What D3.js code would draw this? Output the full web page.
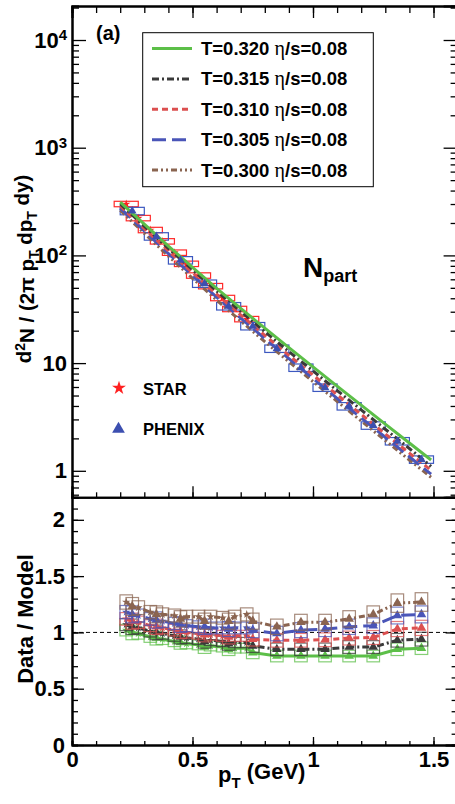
<!DOCTYPE html>
<html>
<head>
<meta charset="utf-8">
<script src="https://cdn.jsdelivr.net/npm/d3@7"></script>
<style>
body { margin: 0; background: #fff; }
text { font-family: "Liberation Sans", Arial, sans-serif; font-weight: bold; }
</style>
</head>
<body>
<script>
// STAR spectrum (upper panel)
var starPt  = [0.225, 0.275, 0.325, 0.375, 0.425, 0.475, 0.525, 0.575, 0.625, 0.675, 0.725];
var starVal = [300, 222, 172, 135, 106, 83.5, 65, 51.8, 40.2, 31.8, 25.6];

// PHENIX spectrum (upper panel)
var phenixPt  = [0.25, 0.35, 0.45, 0.55, 0.65, 0.75, 0.85, 0.95, 1.05, 1.15, 1.25, 1.35, 1.45];
var phenixVal = [258, 150, 90, 54.6, 33.7, 22.0, 13.6, 9.06, 5.91, 3.97, 2.63, 1.88, 1.27];

// model curves
var modelPt   = [0.2, 0.3, 0.4, 0.5, 0.6, 0.7, 0.8, 0.9, 1.0, 1.1, 1.2, 1.3, 1.4, 1.49];
var modelT320 = [313, 195, 122, 77.6, 49.5, 32.2, 21.1, 13.9, 9.23, 6.12, 4.07, 2.71, 1.81, 1.26];
var modelT315 = [300, 187, 116, 73.7, 46.7, 30.2, 19.6, 12.8, 8.46, 5.57, 3.68, 2.43, 1.61, 1.10];
var modelT310 = [288, 177, 110, 69.1, 43.6, 28.0, 18.1, 11.8, 7.75, 5.08, 3.34, 2.20, 1.46, 1.01];
var modelT305 = [275, 169, 104, 65.2, 40.9, 26.2, 16.9, 11.0, 7.20, 4.71, 3.10, 2.05, 1.35, 0.93];
var modelT300 = [263, 160, 98.5, 61.3, 38.5, 24.6, 15.8, 10.3, 6.74, 4.41, 2.90, 1.91, 1.26, 0.87];

// data / model, PHENIX points
var ratioPhxT320 = [1.00, 0.95, 0.91, 0.87, 0.85, 0.82, 0.79, 0.79, 0.79, 0.79, 0.79, 0.85, 0.86];
var ratioPhxT315 = [1.05, 1.00, 0.96, 0.92, 0.90, 0.88, 0.85, 0.85, 0.85, 0.87, 0.87, 0.93, 0.94];
var ratioPhxT310 = [1.10, 1.05, 1.01, 0.98, 0.96, 0.94, 0.93, 0.93, 0.935, 0.95, 0.955, 1.03, 1.04];
var ratioPhxT305 = [1.16, 1.11, 1.07, 1.05, 1.03, 1.02, 0.99, 1.02, 1.03, 1.05, 1.06, 1.15, 1.16];
var ratioPhxT300 = [1.23, 1.16, 1.12, 1.10, 1.10, 1.10, 1.05, 1.09, 1.09, 1.12, 1.16, 1.26, 1.27];

// data / model, STAR points
var ratioStarT320 = [1.02, 0.99, 0.96, 0.94, 0.92, 0.90, 0.89, 0.88, 0.87, 0.86, 0.86];
var ratioStarT315 = [1.07, 1.04, 1.01, 0.99, 0.97, 0.95, 0.94, 0.93, 0.92, 0.91, 0.91];
var ratioStarT310 = [1.12, 1.09, 1.06, 1.04, 1.02, 1.00, 0.99, 0.98, 0.97, 0.97, 0.97];
var ratioStarT305 = [1.18, 1.15, 1.12, 1.10, 1.08, 1.06, 1.05, 1.04, 1.04, 1.04, 1.04];
var ratioStarT300 = [1.27, 1.22, 1.18, 1.16, 1.15, 1.14, 1.14, 1.14, 1.13, 1.14, 1.16];

var legendLabels = ["T=0.320", "T=0.315", "T=0.310", "T=0.305", "T=0.300"];

var models = [
  {label: legendLabels[0], color: "#5cbf48", dash: null,            curve: modelT320, rp: ratioPhxT320, rs: ratioStarT320},
  {label: legendLabels[1], color: "#3a3a3a", dash: "7,3,2,3",       curve: modelT315, rp: ratioPhxT315, rs: ratioStarT315},
  {label: legendLabels[2], color: "#dc5050", dash: "6,4",           curve: modelT310, rp: ratioPhxT310, rs: ratioStarT310},
  {label: legendLabels[3], color: "#4a55b8", dash: "14,6",          curve: modelT305, rp: ratioPhxT305, rs: ratioStarT305},
  {label: legendLabels[4], color: "#8a6450", dash: "6,3,2,3,2,3",   curve: modelT300, rp: ratioPhxT300, rs: ratioStarT300}
];

var svg = d3.select("body").append("svg")
    .attr("width", 455)
    .attr("height", 804);

var x    = d3.scaleLinear().domain([0, 1.6]).range([72, 457.6]);
var yTop = d3.scaleLog().domain([0.5675, 20690]).range([497.3, 6]);
var yBot = d3.scaleLinear().domain([0, 2.2]).range([745, 497.3]);

var starSym = d3.symbol().type(d3.symbolStar).size(22);
var triSym  = d3.symbol().type(d3.symbolTriangle).size(32);

// ---------- upper panel ----------
var upper = svg.append("g");

// systematic boxes
upper.selectAll(".sbox").data(starPt).enter().append("rect")
    .attr("x", function(d) { return x(d - 0.05); })
    .attr("width", x(0.1) - x(0))
    .attr("y", function(d, i) { return yTop(starVal[i] * 1.06); })
    .attr("height", function(d, i) { return yTop(starVal[i] / 1.06) - yTop(starVal[i] * 1.06); })
    .attr("fill", "none").attr("stroke", "#ff2a2a").attr("stroke-width", 1.2);

upper.selectAll(".pbox").data(phenixPt).enter().append("rect")
    .attr("x", function(d) { return x(d - 0.05); })
    .attr("width", x(0.1) - x(0))
    .attr("y", function(d, i) { return yTop(phenixVal[i] * 1.083); })
    .attr("height", function(d, i) { return yTop(phenixVal[i] / 1.083) - yTop(phenixVal[i] * 1.083); })
    .attr("fill", "none").attr("stroke", "#3c58c0").attr("stroke-width", 1.2);

upper.selectAll(".smark").data(starPt).enter().append("path")
    .attr("d", starSym)
    .attr("transform", function(d, i) { return "translate(" + x(d) + "," + yTop(starVal[i]) + ")"; })
    .attr("fill", "#ff2020");

var lineTop = d3.line()
    .x(function(d) { return x(d[0]); })
    .y(function(d) { return yTop(d[1]); });

models.slice().reverse().forEach(function(m) {
  upper.append("path")
      .datum(modelPt.map(function(p, i) { return [p, m.curve[i]]; }))
      .attr("d", lineTop)
      .attr("fill", "none")
      .attr("stroke", m.color)
      .attr("stroke-width", 3)
      .attr("stroke-dasharray", m.dash);
});

upper.selectAll(".pmark").data(phenixPt).enter().append("path")
    .attr("d", triSym)
    .attr("transform", function(d, i) { return "translate(" + x(d) + "," + yTop(phenixVal[i]) + ")"; })
    .attr("fill", "#3c4fb0");

// ---------- lower panel ----------
var lower = svg.append("g");

lower.append("line")
    .attr("x1", x(0)).attr("x2", x(1.6))
    .attr("y1", yBot(1)).attr("y2", yBot(1))
    .attr("stroke", "#000").attr("stroke-width", 1).attr("stroke-dasharray", "4,3");

var lineBot = d3.line()
    .x(function(d) { return x(d[0]); })
    .y(function(d) { return yBot(d[1]); });

models.forEach(function(m) {
  var g = lower.append("g");
  var sPts = starPt.map(function(p, i) { return [p, m.rs[i]]; });
  var pPts = phenixPt.map(function(p, i) { return [p, m.rp[i]]; });

  g.selectAll(".rbs").data(sPts).enter().append("rect")
      .attr("x", function(d) { return x(d[0] - 0.026); })
      .attr("width", x(0.052) - x(0))
      .attr("y", function(d) { return yBot(d[1] * 1.05); })
      .attr("height", function(d) { return yBot(d[1] * 0.95) - yBot(d[1] * 1.05); })
      .attr("fill", "none").attr("stroke", m.color).attr("stroke-opacity", 0.75).attr("stroke-width", 1.2);

  g.selectAll(".rbp").data(pPts).enter().append("rect")
      .attr("x", function(d) { return x(d[0] - 0.026); })
      .attr("width", x(0.052) - x(0))
      .attr("y", function(d) { return yBot(d[1] * 1.065); })
      .attr("height", function(d) { return yBot(d[1] * 0.935) - yBot(d[1] * 1.065); })
      .attr("fill", "none").attr("stroke", m.color).attr("stroke-opacity", 0.75).attr("stroke-width", 1.2);

  var all = sPts.concat(pPts).sort(function(a, b) { return a[0] - b[0]; });
  g.append("path")
      .datum(all)
      .attr("d", lineBot)
      .attr("fill", "none")
      .attr("stroke", m.color)
      .attr("stroke-width", 3)
      .attr("stroke-dasharray", m.dash);

  g.selectAll(".rms").data(sPts).enter().append("path")
      .attr("d", starSym)
      .attr("transform", function(d) { return "translate(" + x(d[0]) + "," + yBot(d[1]) + ")"; })
      .attr("fill", m.color);

  g.selectAll(".rmp").data(pPts).enter().append("path")
      .attr("d", d3.symbol().type(d3.symbolTriangle).size(40))
      .attr("transform", function(d) { return "translate(" + x(d[0]) + "," + yBot(d[1]) + ")"; })
      .attr("fill", m.color);
});

// ---------- axes ----------
function styleAxis(g) {
  g.selectAll("path.domain").attr("stroke", "#000").attr("stroke-width", 2);
  g.selectAll(".tick line").attr("stroke", "#000").attr("stroke-width", 1.3);
  g.selectAll(".tick text").attr("font-size", "22px").attr("font-family", "Liberation Sans, Arial, sans-serif")
      .attr("font-weight", "bold").attr("fill", "#000");
}

var xMajor = [0, 0.5, 1, 1.5];
var xMinor = d3.range(0, 16).map(function(i) { return i / 10; });

var logTicks = yTop.ticks();
var logMajor = logTicks.filter(function(d) { return Math.abs(Math.log10(d) - Math.round(Math.log10(d))) < 1e-9; });
var logMinor = logTicks.filter(function(d) { return logMajor.indexOf(d) < 0; });

// upper left
svg.append("g").attr("transform", "translate(72,0)")
    .call(d3.axisLeft(yTop).tickValues(logMinor).tickSize(-7).tickFormat(""))
    .call(styleAxis);
var upLeft = svg.append("g").attr("transform", "translate(72,0)")
    .call(d3.axisLeft(yTop).tickValues(logMajor).tickSize(-14).tickSizeOuter(0).tickPadding(5))
    .call(styleAxis);
upLeft.selectAll(".tick text").each(function(d) {
  var e = Math.round(Math.log10(d));
  var t = d3.select(this).text(null);
  if (e === 0) { t.text("1"); }
  else if (e === 1) { t.text("10"); }
  else {
    t.append("tspan").text("10");
    t.append("tspan").attr("dy", "-0.5em").attr("font-size", "15px").text(e);
  }
});
// upper right
svg.append("g").attr("transform", "translate(" + x(1.6) + ",0)")
    .call(d3.axisRight(yTop).tickValues(logMinor).tickSize(-7).tickFormat(""))
    .call(styleAxis);
svg.append("g").attr("transform", "translate(" + x(1.6) + ",0)")
    .call(d3.axisRight(yTop).tickValues(logMajor).tickSize(-14).tickFormat(""))
    .call(styleAxis);
// upper top
svg.append("g").attr("transform", "translate(0,6)")
    .call(d3.axisBottom(x).tickValues(xMinor).tickSize(7).tickFormat(""))
    .call(styleAxis);
svg.append("g").attr("transform", "translate(0,6)")
    .call(d3.axisBottom(x).tickValues(xMajor).tickSize(12).tickFormat(""))
    .call(styleAxis);
// upper bottom
svg.append("g").attr("transform", "translate(0,497.3)")
    .call(d3.axisBottom(x).tickValues(xMinor).tickSize(-5).tickFormat(""))
    .call(styleAxis);
svg.append("g").attr("transform", "translate(0,497.3)")
    .call(d3.axisBottom(x).tickValues(xMajor).tickSize(-11).tickFormat(""))
    .call(styleAxis);

// lower left
var yBotMinor = d3.range(0, 23).map(function(i) { return i / 10; });
var yBotMajor = [0, 0.5, 1, 1.5, 2];
svg.append("g").attr("transform", "translate(72,0)")
    .call(d3.axisLeft(yBot).tickValues(yBotMinor).tickSize(-6).tickFormat(""))
    .call(styleAxis);
svg.append("g").attr("transform", "translate(72,0)")
    .call(d3.axisLeft(yBot).tickValues(yBotMajor).tickSize(-12).tickSizeOuter(0).tickPadding(7)
      .tickFormat(function(d) { return String(d); }))
    .call(styleAxis);
// lower right
svg.append("g").attr("transform", "translate(" + x(1.6) + ",0)")
    .call(d3.axisRight(yBot).tickValues(yBotMinor).tickSize(-6).tickFormat(""))
    .call(styleAxis);
svg.append("g").attr("transform", "translate(" + x(1.6) + ",0)")
    .call(d3.axisRight(yBot).tickValues(yBotMajor).tickSize(-12).tickFormat(""))
    .call(styleAxis);
// lower bottom
svg.append("g").attr("transform", "translate(0,745)")
    .call(d3.axisBottom(x).tickValues(xMinor).tickSize(-4).tickFormat(""))
    .call(styleAxis);
svg.append("g").attr("transform", "translate(0,745)")
    .call(d3.axisBottom(x).tickValues(xMajor).tickSize(-8).tickSizeOuter(0).tickPadding(6)
      .tickFormat(function(d) { return String(d); }))
    .call(styleAxis);

// ---------- titles ----------
var yt = svg.append("text")
    .attr("transform", "translate(31,269) rotate(-90)")
    .attr("text-anchor", "middle")
    .attr("font-size", "20.5px");
yt.append("tspan").text("d");
yt.append("tspan").attr("dy", "-0.45em").attr("font-size", "14px").text("2");
yt.append("tspan").attr("dy", "0.45em").text("N / (2\u03c0 p");
yt.append("tspan").attr("dy", "0.35em").attr("font-size", "14px").text("T");
yt.append("tspan").attr("dy", "-0.35em").text(" dp");
yt.append("tspan").attr("dy", "0.35em").attr("font-size", "14px").text("T");
yt.append("tspan").attr("dy", "-0.35em").text(" dy)");

svg.append("text")
    .attr("transform", "translate(33,619) rotate(-90)")
    .attr("text-anchor", "middle")
    .attr("font-size", "22px")
    .text("Data / Model");

var xt = svg.append("text")
    .attr("x", 218).attr("y", 782)
    .attr("font-size", "22px");
xt.append("tspan").text("p");
xt.append("tspan").attr("dy", "0.4em").attr("font-size", "15px").text("T");
xt.append("tspan").attr("dy", "-0.4em").text(" (GeV)");

svg.append("text").attr("x", 96).attr("y", 40).attr("font-size", "20px").text("(a)");

var np = svg.append("text").attr("x", 303).attr("y", 277).attr("font-size", "28px");
np.append("tspan").text("N");
np.append("tspan").attr("dy", "0.3em").attr("font-size", "18px").text("part");

// ---------- model legend ----------
var leg = svg.append("g");
leg.append("rect")
    .attr("x", 142.7).attr("y", 32.7).attr("width", 230.6).attr("height", 154)
    .attr("fill", "#fff").attr("stroke", "#000").attr("stroke-width", 1);
var rowY = d3.scalePoint().domain(legendLabels).range([48.5, 170]);
models.forEach(function(m) {
  var yy = rowY(m.label);
  leg.append("line")
      .attr("x1", 152).attr("x2", 192).attr("y1", yy).attr("y2", yy)
      .attr("stroke", m.color).attr("stroke-width", 3).attr("stroke-dasharray", m.dash);
  var t = leg.append("text").attr("x", 201).attr("y", yy + 6.5).attr("font-size", "18.5px");
  t.append("tspan").text(m.label + " ");
  t.append("tspan").attr("font-family", "Liberation Serif, serif").attr("font-weight", "normal")
      .attr("font-size", "20px").text("\u03b7");
  t.append("tspan").text("/s=0.08");
});

// ---------- data legend ----------
svg.append("path").attr("d", d3.symbol().type(d3.symbolStar).size(60)).attr("transform", "translate(119,388)").attr("fill", "#ff2020");
svg.append("text").attr("x", 143).attr("y", 394.5).attr("font-size", "16.5px").text("STAR");
svg.append("path").attr("d", d3.symbol().type(d3.symbolTriangle).size(70)).attr("transform", "translate(118.5,429)").attr("fill", "#3c4fb0");
svg.append("text").attr("x", 143).attr("y", 435).attr("font-size", "16.5px").text("PHENIX");
</script>
</body>
</html>
